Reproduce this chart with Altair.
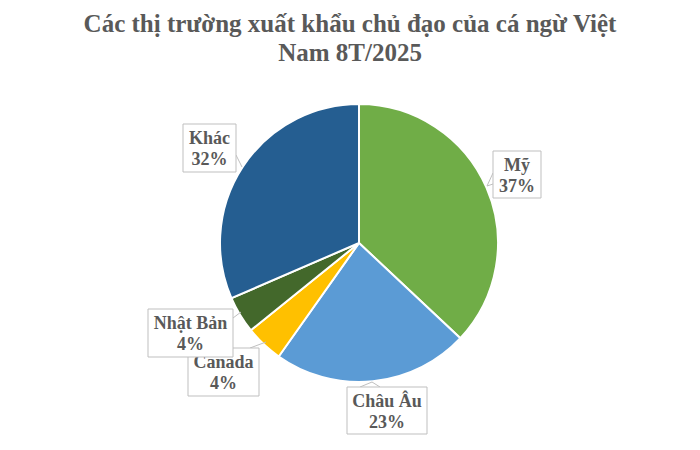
import altair as alt
import pandas as pd

# ---- data ----
markets = ["Mỹ", "Châu Âu", "Canada", "Nhật Bản", "Khác"]
shares = [37.0, 22.8, 4.4, 4.3, 31.5]
share_labels = ["37%", "23%", "4%", "4%", "32%"]
colors = ["#70AD47", "#5B9BD5", "#FFC000", "#43682B", "#255E91"]
title_lines = ["Các thị trường xuất khẩu chủ đạo của cá ngừ Việt", "Nam 8T/2025"]

# ---- layout (pixel positions of annotation boxes inside plot area) ----
W, H = 684, 434
CX, CY, R = 351, 235, 139
boxes = {  # x0, x1, y0, y1 (page coords - 8)
    "Mỹ": (485, 533, 143, 190),
    "Châu Âu": (339, 419, 379, 426),
    "Canada": (180, 251, 340, 388),
    "Nhật Bản": (140, 225, 301, 349),
    "Khác": (175, 228, 116, 164),
}
leaders = [
    (228, 147, 234, 159),
    (485, 165, 479, 178), (479, 178, 485, 176),
    (352, 379, 364, 374), (364, 374, 372, 379),
    (242, 340, 258, 334),
    (225, 310, 233, 304),
]

pie_df = pd.DataFrame({"market": markets, "share": shares, "order": list(range(len(markets)))})

pie = alt.Chart(pie_df).mark_arc(outerRadius=R, stroke="white", strokeWidth=2).encode(
    theta=alt.Theta("share:Q", stack=True),
    order=alt.Order("order:Q"),
    color=alt.Color("market:N", scale=alt.Scale(domain=markets, range=colors), legend=None),
    x=alt.value(CX),
    y=alt.value(CY),
)

draw_order = ["Mỹ", "Châu Âu", "Canada", "Nhật Bản", "Khác"]
box_rows = []
text_rows = []
for m in draw_order:
    x0, x1, y0, y1 = boxes[m]
    box_rows.append({"m": m, "x0": x0, "x1": x1, "y0": y0, "y1": y1})
    i = markets.index(m)
    cx = (x0 + x1) / 2
    text_rows.append({"m": m, "x": cx, "y": y0 + 20, "t": m})
    text_rows.append({"m": m, "x": cx, "y": y0 + 41, "t": share_labels[i]})

lead_df = pd.DataFrame([{"x": a, "y": b, "x2": c, "y2": d} for a, b, c, d in leaders])
leads = alt.Chart(lead_df).mark_rule(color="#BFBFBF", strokeWidth=1).encode(
    x=alt.X("x:Q", scale=None), y=alt.Y("y:Q", scale=None),
    x2="x2:Q", y2="y2:Q",
)

layers = [pie, leads]
for m in draw_order:
    b = pd.DataFrame([r for r in box_rows if r["m"] == m])
    t = pd.DataFrame([r for r in text_rows if r["m"] == m])
    layers.append(alt.Chart(b).mark_rect(fill="white", stroke="#BFBFBF", strokeWidth=1).encode(
        x=alt.X("x0:Q", scale=None), x2="x1:Q",
        y=alt.Y("y0:Q", scale=None), y2="y1:Q",
    ))
    layers.append(alt.Chart(t).mark_text(
        font="Liberation Serif", fontWeight="bold", fontSize=18, color="#595959",
        align="center", baseline="alphabetic",
    ).encode(x=alt.X("x:Q", scale=None), y=alt.Y("y:Q", scale=None), text="t:N"))

title_df = pd.DataFrame({"x": [342, 342], "y": [24, 53], "t": title_lines})
title = alt.Chart(title_df).mark_text(
    font="Liberation Serif", fontWeight="bold", fontSize=25, color="#595959",
    align="center", baseline="alphabetic",
).encode(x=alt.X("x:Q", scale=None), y=alt.Y("y:Q", scale=None), text="t:N")
layers.append(title)

chart = alt.layer(*layers).properties(
    width=W, height=H, autosize="none", padding=0,
).configure_view(stroke=None)

chart.save("out.html", embed_options={"renderer": "svg", "actions": False})
